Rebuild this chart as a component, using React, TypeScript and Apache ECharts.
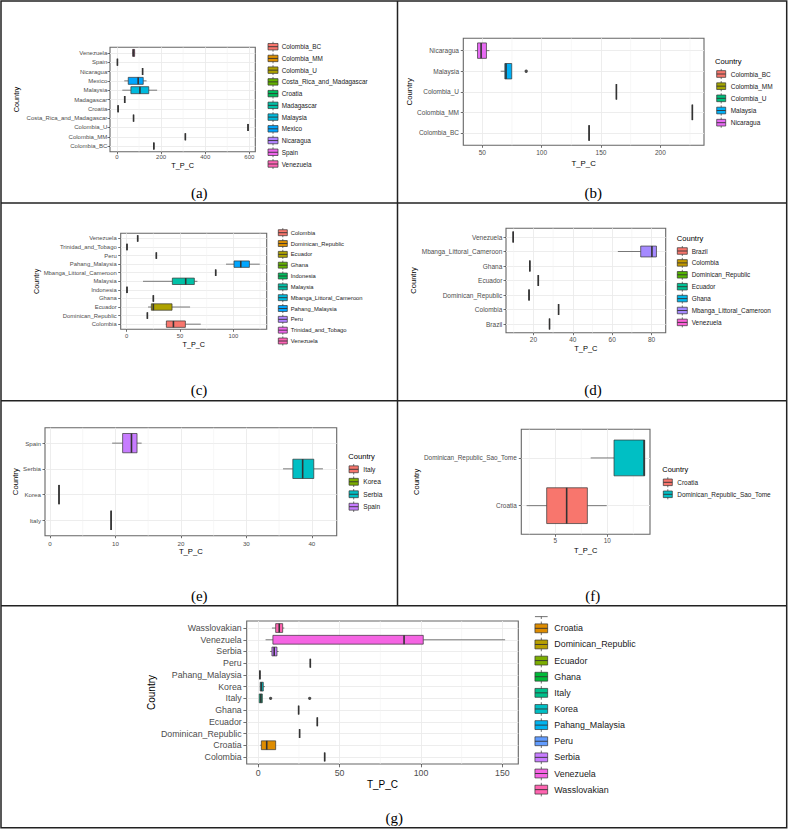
import React, { useEffect, useRef } from "react";
import * as echarts from "echarts";

const FONT = 'Arial, "Liberation Sans", sans-serif';
const SERIF = '"Times New Roman", "Liberation Serif", serif';

// ---------- Panel (a) ----------
const aCategories = ["Colombia_BC", "Colombia_MM", "Colombia_U", "Costa_Rica_and_Madagascar", "Croatia", "Madagascar", "Malaysia", "Mexico", "Nicaragua", "Spain", "Venezuela"];
const aStats = [
  [167, 167, 167, 167, 167],
  [310, 310, 310, 310, 310],
  [594, 594, 594, 594, 594],
  [75, 75, 75, 75, 75],
  [5, 5, 5, 5, 5],
  [35, 35, 35, 35, 35],
  [24, 63, 104, 144, 182],
  [33, 51, 96, 119, 134],
  [116, 116, 116, 116, 116],
  [2, 2, 2, 2, 2],
  [68, 71, 75, 80, 82],
];
const aColors = ["#F8766D", "#DB8E00", "#AEA200", "#64B200", "#00BD5C", "#00C1A7", "#00BADE", "#00A6FF", "#B385FF", "#EF67EB", "#FF63B6"];
const aTicks = [0, 200, 400, 600];
const aMinor = [100, 300, 500];
const aOutliers: number[][] = [];

// ---------- Panel (b) ----------
const bCategories = ["Colombia_BC", "Colombia_MM", "Colombia_U", "Malaysia", "Nicaragua"];
const bStats = [
  [140, 140, 140, 140, 140],
  [227, 227, 227, 227, 227],
  [163, 163, 163, 163, 163],
  [65.5, 69, 70, 74.8, 74.8],
  [44, 46, 49, 53.5, 56],
];
const bColors = ["#F8766D", "#A3A500", "#00BF7D", "#00B0F6", "#E76BF3"];
const bTicks = [50, 100, 150, 200];
const bMinor = [75, 125, 175, 225];
const bOutliers = [[87, 3]];

// ---------- Panel (c) ----------
const cCategories = ["Colombia", "Dominican_Republic", "Ecuador", "Ghana", "Indonesia", "Malaysia", "Mbanga_Littoral_Cameroon", "Pahang_Malaysia", "Peru", "Trinidad_and_Tobago", "Venezuela"];
const cStats = [
  [36.6, 37.2, 43.8, 55, 69.4],
  [19.4, 19.4, 19.4, 19.4, 19.4],
  [20, 23.1, 25, 42.5, 59.4],
  [25, 25, 25, 25, 25],
  [0.3, 0.3, 0.3, 0.3, 0.3],
  [15.3, 42.8, 55.3, 63.4, 66.3],
  [83.4, 83.4, 83.4, 83.4, 83.4],
  [93.1, 100.6, 106.9, 115, 124.7],
  [27.8, 27.8, 27.8, 27.8, 27.8],
  [0.3, 0.3, 0.3, 0.3, 0.3],
  [10.3, 10.3, 10.3, 10.3, 10.3],
];
const cColors = ["#F8766D", "#DB8E00", "#AEA200", "#64B200", "#00BD5C", "#00C1A7", "#00BADE", "#00A6FF", "#B385FF", "#EF67EB", "#FF63B6"];
const cTicks = [0, 50, 100];
const cMinor = [25, 75, 125];
const cOutliers: number[][] = [];

// ---------- Panel (d) ----------
const dCategories = ["Brazil", "Colombia", "Dominican_Republic", "Ecuador", "Ghana", "Mbanga_Littoral_Cameroon", "Venezuela"];
const dStats = [
  [28.2, 28.2, 28.2, 28.2, 28.2],
  [32.8, 32.8, 32.8, 32.8, 32.8],
  [17.8, 17.8, 17.8, 17.8, 17.8],
  [22.5, 22.5, 22.5, 22.5, 22.5],
  [18.2, 18.2, 18.2, 18.2, 18.2],
  [62.9, 74.5, 80.2, 82.5, 82.5],
  [9.75, 9.75, 9.75, 9.75, 9.75],
];
const dColors = ["#F8766D", "#C49A00", "#53B400", "#00C094", "#00B6EB", "#A58AFF", "#FB61D7"];
const dTicks = [20, 40, 60, 80];
const dMinor = [10, 30, 50, 70];
const dOutliers: number[][] = [];

// ---------- Panel (e) ----------
const eCategories = ["Italy", "Korea", "Serbia", "Spain"];
const eStats = [
  [9.34, 9.34, 9.34, 9.34, 9.34],
  [1.38, 1.38, 1.38, 1.38, 1.38],
  [35.6, 37.1, 38.6, 40.3, 41.7],
  [9.5, 11.1, 12.45, 13.3, 14],
];
const eColors = ["#F8766D", "#7CAE00", "#00BFC4", "#C77CFF"];
const eTicks = [0, 10, 20, 30, 40];
const eMinor = [5, 15, 25, 35];
const eOutliers: number[][] = [];

// ---------- Panel (f) ----------
const fCategories = ["Croatia", "Dominican_Republic_Sao_Tome"];
const fStats = [
  [2.24, 4.17, 6.09, 8.08, 9.94],
  [8.4, 10.64, 13.53, 13.59, 13.59],
];
const fColors = ["#F8766D", "#00BFC4"];
const fTicks = [5, 10];
const fMinor = [2.5, 7.5, 12.5];
const fOutliers: number[][] = [];

// ---------- Panel (g) ----------
const gCategories = ["Colombia", "Croatia", "Dominican_Republic", "Ecuador", "Ghana", "Italy", "Korea", "Pahang_Malaysia", "Peru", "Serbia", "Venezuela", "Wasslovakian"];
const gStats = [
  [40.8, 40.8, 40.8, 40.8, 40.8],
  [1.2, 1.9, 5.2, 10.7, 10.7],
  [25.4, 25.4, 25.4, 25.4, 25.4],
  [36.3, 36.3, 36.3, 36.3, 36.3],
  [24.8, 24.8, 24.8, 24.8, 24.8],
  [0.6, 0.6, 1.6, 2.5, 2.5],
  [1, 1.2, 1.9, 3.1, 4.1],
  [1, 1, 1, 1, 1],
  [32, 32, 32, 32, 32],
  [7.2, 8.4, 9.8, 11.5, 12.5],
  [4.5, 9, 89.6, 101.4, 151.7],
  [8.4, 10.7, 12.9, 15, 16],
];
const gColors = ["#F8766D", "#DE8C00", "#B79F00", "#7CAE00", "#00BA38", "#00C08B", "#00BFC4", "#00B4F0", "#619CFF", "#C77CFF", "#F564E3", "#FF64B0"];
const gTicks = [0, 50, 100, 150];
const gMinor = [25, 75, 125];
const gOutliers = [[7.6, 5], [31.6, 5]];

type Legend = { cx: number; y0: number; s: number; kw: number; tx: number; fs: number; title?: number[]; skipFirst?: boolean };
type Panel = {
  cats: string[]; stats: number[][]; colors: string[]; ticks: number[]; minor: number[]; outliers: number[][];
  grid: { left: number; top: number; width: number; height: number };
  xr: number[]; interval: number; fs: number; tfs: number; yGap: number; xGap: number;
  tickLen: number; xMargin: number; yMargin: number; legend: Legend; caption: [string, number, number];
};

const panels: Panel[] = [
  {
    cats: aCategories, stats: aStats, colors: aColors, ticks: aTicks, minor: aMinor, outliers: aOutliers,
    grid: { left: 110, top: 47.3, width: 145.3, height: 104.4 }, xr: [-31.7, 627], interval: 200,
    fs: 6, tfs: 7.3, yGap: 89.6, xGap: 10.5, tickLen: 2.5, xMargin: 2, yMargin: 2.7,
    legend: { cx: 273, y0: 46.7, s: 11.73, kw: 10, tx: 281.7, fs: 6.4 }, caption: ["(a)", 199.3, 192.7],
  },
  {
    cats: bCategories, stats: bStats, colors: bColors, ticks: bTicks, minor: bMinor, outliers: bOutliers,
    grid: { left: 463.3, top: 38.3, width: 240.7, height: 107 }, xr: [34, 236.8], interval: 50,
    fs: 6.5, tfs: 7.8, yGap: 45.5, xGap: 14.2, tickLen: 2.5, xMargin: 4, yMargin: 4.3,
    legend: { cx: 721.2, y0: 74, s: 12.17, kw: 9, tx: 730.7, fs: 6.5, title: [715, 61, 7.6] }, caption: ["(b)", 593.3, 192.7],
  },
  {
    cats: cCategories, stats: cStats, colors: cColors, ticks: cTicks, minor: cMinor, outliers: cOutliers,
    grid: { left: 120.7, top: 233.3, width: 146, height: 96 }, xr: [-5.6, 131.2], interval: 50,
    fs: 5.9, tfs: 7.2, yGap: 77.9, xGap: 11.5, tickLen: 2.5, xMargin: 3.7, yMargin: 4,
    legend: { cx: 282.8, y0: 232.7, s: 10.83, kw: 9, tx: 290.7, fs: 5.8 }, caption: ["(c)", 199, 390],
  },
  {
    cats: dCategories, stats: dStats, colors: dColors, ticks: dTicks, minor: dMinor, outliers: dOutliers,
    grid: { left: 506, top: 228.3, width: 159.7, height: 104.4 }, xr: [6.1, 87.2], interval: 20,
    fs: 6.5, tfs: 7.5, yGap: 85, xGap: 11.9, tickLen: 2.5, xMargin: 3.3, yMargin: 3.7,
    legend: { cx: 682.3, y0: 251, s: 11.9, kw: 10, tx: 691.7, fs: 6.4, title: [676.7, 238.3, 7.6] }, caption: ["(d)", 593, 390],
  },
  {
    cats: eCategories, stats: eStats, colors: eColors, ticks: eTicks, minor: eMinor, outliers: eOutliers,
    grid: { left: 45, top: 427.7, width: 291.7, height: 108 }, xr: [-0.76, 43.8], interval: 10,
    fs: 6.2, tfs: 7.7, yGap: 24.5, xGap: 12.2, tickLen: 2.5, xMargin: 4.5, yMargin: 4,
    legend: { cx: 353.7, y0: 469.3, s: 12.47, kw: 9.3, tx: 363.3, fs: 6.6, title: [348.3, 456, 7.6] }, caption: ["(e)", 199.3, 596],
  },
  {
    cats: fCategories, stats: fStats, colors: fColors, ticks: fTicks, minor: fMinor, outliers: fOutliers,
    grid: { left: 521.3, top: 429.3, width: 128.7, height: 105 }, xr: [1.73, 14.1], interval: 5,
    fs: 6.4, tfs: 7.5, yGap: 100.3, xGap: 12, tickLen: 2.5, xMargin: 3.5, yMargin: 4.6,
    legend: { cx: 667.8, y0: 482.3, s: 12, kw: 9, tx: 677.3, fs: 6.45, title: [662.3, 469.3, 7.4] }, caption: ["(f)", 592.7, 596],
  },
  {
    cats: gCategories, stats: gStats, colors: gColors, ticks: gTicks, minor: gMinor, outliers: gOutliers,
    grid: { left: 246.7, top: 621, width: 271.6, height: 143 }, xr: [-7.1, 159.8], interval: 50,
    fs: 8.8, tfs: 10, yGap: 90, xGap: 15.3, tickLen: 3.3, xMargin: 4.3, yMargin: 5,
    legend: { cx: 541.3, y0: 612.2, s: 16.13, kw: 12.7, tx: 554.3, fs: 8.9, skipFirst: true }, caption: ["(g)", 394.3, 818],
  },
];

const txt = (x: number, y: number, s: string, fontSize: number, fill: string, align: string, family = FONT) => ({
  type: "text", x, y, silent: true, z: 10,
  style: { text: s, fontSize, fontFamily: family, fill, textAlign: align, textVerticalAlign: "middle", align, verticalAlign: "middle" },
});

const boxRenderer = (colors: string[]) => (params: any, api: any) => {
  const c = api.value(0);
  const lo = api.coord([api.value(1), c]);
  const q1 = api.coord([api.value(2), c])[0];
  const md = api.coord([api.value(3), c])[0];
  const q3 = api.coord([api.value(4), c])[0];
  const hi = api.coord([api.value(5), c])[0];
  const y = lo[1];
  const h = Math.abs(api.coord([0, c + 0.375])[1] - api.coord([0, c - 0.375])[1]);
  const col = colors[c];
  return {
    type: "group",
    children: [
      { type: "line", shape: { x1: lo[0], y1: y, x2: q1, y2: y }, style: { stroke: "#444", lineWidth: 0.7 } },
      { type: "line", shape: { x1: q3, y1: y, x2: hi, y2: y }, style: { stroke: "#444", lineWidth: 0.7 } },
      { type: "rect", shape: { x: q1, y: y - h / 2, width: Math.max(q3 - q1, 0.01), height: h }, style: { fill: col, stroke: "#333", lineWidth: 0.7 } },
      { type: "line", shape: { x1: md, y1: y - h / 2, x2: md, y2: y + h / 2 }, style: { stroke: "#333", lineWidth: 1.6 } },
    ],
  };
};

function buildOption() {
  const grid: any[] = [];
  const xAxis: any[] = [];
  const yAxis: any[] = [];
  const series: any[] = [];
  const graphic: any[] = [];

  panels.forEach((p, i) => {
    const n = p.cats.length;
    const idx = p.cats.map((_, k) => k);
    const yMin = -0.6;
    const yMax = n - 0.4;
    grid.push({ ...p.grid, show: true, borderColor: "#666", borderWidth: 1.1, backgroundColor: "#fff", containLabel: false });
    xAxis.push({
      type: "value", gridIndex: i, position: "bottom", min: p.xr[0], max: p.xr[1], minInterval: p.interval, maxInterval: p.interval,
      axisLine: { show: false, onZero: false },
      axisTick: { show: true, length: p.tickLen, lineStyle: { color: "#333", width: 0.7 }, customValues: p.ticks },
      axisLabel: {
        show: true, customValues: p.ticks, fontSize: p.fs, color: "#4D4D4D", fontFamily: FONT, margin: p.xMargin,
        formatter: (v: number) => (p.ticks.indexOf(v) >= 0 ? String(v) : ""),
      },
      splitLine: { show: true, lineStyle: { color: "#EBEBEB", width: 0.9 } },
      name: "T_P_C", nameLocation: "middle", nameGap: p.xGap,
      nameTextStyle: { fontSize: p.tfs, color: "#000", fontFamily: FONT },
    });
    yAxis.push({
      type: "value", gridIndex: i, position: "left", min: yMin, max: yMax, minInterval: 1, maxInterval: 1,
      axisLine: { show: false, onZero: false },
      axisTick: { show: true, length: p.tickLen, lineStyle: { color: "#333", width: 0.7 }, customValues: idx },
      axisLabel: {
        show: true, customValues: idx, fontSize: p.fs, color: "#4D4D4D", fontFamily: FONT, margin: p.yMargin,
        formatter: (v: number) => {
          const k = Math.round(v);
          return Math.abs(v - k) < 1e-6 ? p.cats[k] ?? "" : "";
        },
      },
      splitLine: { show: true, lineStyle: { color: "#EBEBEB", width: 0.9 } },
      name: "Country", nameLocation: "middle", nameRotate: 90, nameGap: p.yGap,
      nameTextStyle: { fontSize: p.tfs, color: "#000", fontFamily: FONT },
    });
    // minor grid lines
    series.push({
      type: "custom", xAxisIndex: i, yAxisIndex: i, z: 1, silent: true,
      data: p.minor.map((v) => [v]), encode: { x: 0 },
      renderItem: (params: any, api: any) => {
        const v = api.value(0);
        const a = api.coord([v, yMin]);
        const b = api.coord([v, yMax]);
        return { type: "line", shape: { x1: a[0], y1: a[1], x2: b[0], y2: b[1] }, style: { stroke: "#F2F2F2", lineWidth: 0.6 } };
      },
    });
    // boxes
    series.push({
      type: "custom", xAxisIndex: i, yAxisIndex: i, z: 3, silent: true,
      data: p.stats.map((s, k) => [k, ...s]), encode: { x: [1, 2, 3, 4, 5], y: 0 },
      renderItem: boxRenderer(p.colors),
    });
    if (p.outliers.length) {
      series.push({
        type: "scatter", xAxisIndex: i, yAxisIndex: i, z: 4, silent: true,
        data: p.outliers, symbolSize: 3.3, itemStyle: { color: "#222" },
      });
    }

    // legend
    const L = p.legend;
    if (L.title) graphic.push(txt(L.title[0], L.title[1], "Country", L.title[2], "#000", "left"));
    p.cats.forEach((name, k) => {
      const cy = L.y0 + k * L.s;
      const kh = L.s * 0.55;
      if (L.skipFirst && k === 0) {
        graphic.push({ type: "line", silent: true, shape: { x1: L.cx - L.kw / 2, y1: cy + kh / 2, x2: L.cx + L.kw / 2, y2: cy + kh / 2 }, style: { stroke: "#333", lineWidth: 0.7 } });
        graphic.push({ type: "line", silent: true, shape: { x1: L.cx, y1: cy + kh / 2, x2: L.cx, y2: cy + 0.42 * L.s }, style: { stroke: "#333", lineWidth: 0.7 } });
        return;
      }
      graphic.push({ type: "line", silent: true, shape: { x1: L.cx, y1: cy - 0.42 * L.s, x2: L.cx, y2: cy + 0.42 * L.s }, style: { stroke: "#333", lineWidth: 0.7 } });
      graphic.push({ type: "rect", silent: true, shape: { x: L.cx - L.kw / 2, y: cy - kh / 2, width: L.kw, height: kh }, style: { fill: p.colors[k], stroke: "#333", lineWidth: 0.7 } });
      graphic.push({ type: "line", silent: true, shape: { x1: L.cx - L.kw / 2, y1: cy, x2: L.cx + L.kw / 2, y2: cy }, style: { stroke: "#333", lineWidth: 0.9 } });
      graphic.push(txt(L.tx, cy, name, L.fs, "#1a1a1a", "left"));
    });
    graphic.push(txt(p.caption[1], p.caption[2], p.caption[0], 15, "#000", "center", SERIF));
  });

  // frame
  const frameStyle = { stroke: "#222", lineWidth: 1.5 };
  graphic.push({ type: "rect", silent: true, shape: { x: 1, y: 1, width: 785.7, height: 826.7 }, style: { fill: "none", ...frameStyle } });
  graphic.push({ type: "line", silent: true, shape: { x1: 397.5, y1: 1, x2: 397.5, y2: 605.7 }, style: frameStyle });
  graphic.push({ type: "line", silent: true, shape: { x1: 1, y1: 203, x2: 786.7, y2: 203 }, style: frameStyle });
  graphic.push({ type: "line", silent: true, shape: { x1: 1, y1: 400.7, x2: 786.7, y2: 400.7 }, style: frameStyle });
  graphic.push({ type: "line", silent: true, shape: { x1: 1, y1: 605.7, x2: 786.7, y2: 605.7 }, style: frameStyle });

  return { animation: false, backgroundColor: "#fff", grid, xAxis, yAxis, series, graphic };
}

export default function App() {
  const ref = useRef<HTMLDivElement>(null);
  useEffect(() => {
    const chart = echarts.init(ref.current!, undefined, { renderer: "svg" });
    chart.setOption(buildOption() as any);
    return () => chart.dispose();
  }, []);
  return <div ref={ref} style={{ position: "absolute", left: 0, top: 0, width: 789, height: 830, background: "#fff" }} />;
}
